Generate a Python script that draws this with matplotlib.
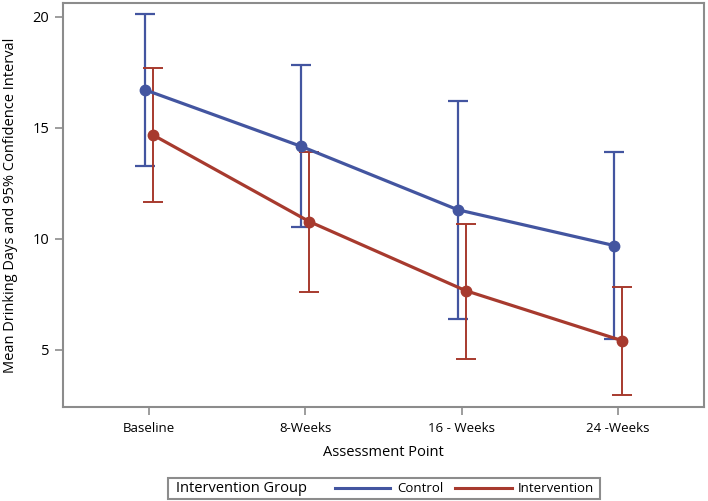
import matplotlib
matplotlib.use("Agg")
import matplotlib.pyplot as plt
from matplotlib.lines import Line2D
from matplotlib.patches import Rectangle
import numpy as np

categories = ["Baseline", "8-Weeks", "16 - Weeks", "24 -Weeks"]
control_mean = [16.71, 14.16, 11.31, 9.70]
control_low = [13.26, 10.54, 6.41, 5.48]
control_high = [20.12, 17.84, 16.23, 13.90]
interv_mean = [14.68, 10.78, 7.67, 5.42]
interv_low = [11.68, 7.60, 4.61, 2.97]
interv_high = [17.69, 13.93, 10.68, 7.85]

blue = "#4355A0"
red = "#A73A2E"
frame = "#8C8C8C"

plt.rcParams['font.family'] = ['Open Sans', 'DejaVu Sans']

fig = plt.figure(figsize=(7.08, 5.01), dpi=100)
ax = fig.add_axes([63/708, 1-407/501, (704-63)/708, (407-3)/501])

x = np.arange(len(categories))
off = 0.025

def draw(xs, m, lo, hi, color, elw):
    m = np.array(m); lo = np.array(lo); hi = np.array(hi)
    ax.errorbar(xs, m, yerr=[m-lo, hi-m], fmt='none', ecolor=color,
                elinewidth=elw, capsize=7, capthick=elw, zorder=2)
    ax.plot(xs, m, color=color, lw=2.3, marker='o', markersize=7.5,
            zorder=3)

draw(x - off, control_mean, control_low, control_high, blue, 1.6)
draw(x + off, interv_mean, interv_low, interv_high, red, 1.4)

ax.set_xlim(-0.55, 3.55)
ax.set_ylim(2.43, 20.62)
ax.set_xticks(x)
ax.set_xticklabels(categories, fontsize=9.5)
ax.set_yticks([5, 10, 15, 20])
ax.tick_params(axis='y', labelsize=10.5, length=6, width=1.2, color=frame, pad=4)
ax.tick_params(axis='x', length=6, width=1.2, color=frame, pad=5)
for s in ax.spines.values():
    s.set_color(frame)
    s.set_linewidth(1.5)
ax.set_xlabel("Assessment Point", fontsize=10.5, labelpad=7)
ax.set_ylabel("Mean Drinking Days and 95% Confidence Interval", fontsize=10.5, labelpad=10)

# legend box
fig.patches.append(Rectangle((168/708, 1-499/501), (600-168)/708, (499-477.5)/501,
                             transform=fig.transFigure, fill=False,
                             edgecolor=frame, linewidth=1.5))
yc = 1-488/501
fig.text(176/708, yc, "Intervention Group", fontsize=10.5, va='center', ha='left')
fig.lines.append(Line2D([335/708, 390/708], [yc, yc], transform=fig.transFigure,
                        color=blue, lw=2.2))
fig.text(397/708, yc, "Control", fontsize=9.5, va='center', ha='left')
fig.lines.append(Line2D([455/708, 512/708], [yc, yc], transform=fig.transFigure,
                        color=red, lw=2.2))
fig.text(518/708, yc, "Intervention", fontsize=9.5, va='center', ha='left')

fig.savefig("out.png", dpi=100)
